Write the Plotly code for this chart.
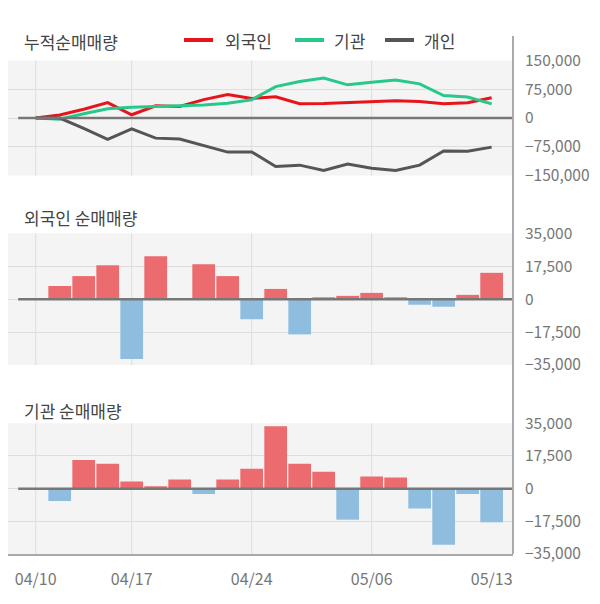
import plotly.graph_objects as go
from plotly.subplots import make_subplots

dates = ["04/10", "04/13", "04/14", "04/16", "04/17", "04/20", "04/21", "04/22", "04/23", "04/24",
         "04/27", "04/28", "04/29", "05/04", "05/06", "05/07", "05/08", "05/11", "05/12", "05/13"]
tick_dates = ["04/10", "04/17", "04/24", "05/06", "05/13"]

foreign_cum = [0, 8000, 23000, 40000, 8500, 32000, 30000, 48000, 61000, 51000,
               55500, 37500, 38000, 40000, 42500, 45000, 43000, 37500, 40000, 53000]
inst_cum = [0, -3000, 11000, 24000, 28000, 30000, 32500, 34000, 38500, 47500,
            82000, 95000, 104500, 86500, 93000, 99000, 89000, 58500, 54500, 37000]
indiv_cum = [0, 0, -27000, -55500, -28500, -52500, -55000, -71000, -89000, -88500,
             -126500, -123000, -137000, -120000, -131000, -137000, -123000, -86000, -87000, -76000]

foreign_net = [0, 7000, 12250, 18000, -31850, 22750, 0, 18550, 12250, -10675,
               5425, -18725, 700, 1750, 3325, 700, -2975, -4025, 2275, 14000]
inst_net = [0, -6650, 15400, 13300, 3850, 1225, 4900, -2800, 4900, 10675,
            33425, 13300, 9100, -16625, 6475, 5950, -10675, -30100, -2800, -18025]

cum_ticks = [-150000, -75000, 0, 75000, 150000]
net_ticks = [-35000, -17500, 0, 17500, 35000]

RED = "#e8141c"
GREEN = "#27c98a"
GRAY = "#555555"
POS = "#ec6b6f"
NEG = "#8fbde0"
GRID = "#dddddd"
BG = "#f4f4f4"
FONT = "Noto Sans CJK KR"

fig = make_subplots(rows=3, cols=1, shared_xaxes=True)

fig.add_trace(go.Scatter(x=dates, y=foreign_cum, mode="lines", line=dict(color=RED, width=3), name="외국인"), 1, 1)
fig.add_trace(go.Scatter(x=dates, y=inst_cum, mode="lines", line=dict(color=GREEN, width=3), name="기관"), 1, 1)
fig.add_trace(go.Scatter(x=dates, y=indiv_cum, mode="lines", line=dict(color=GRAY, width=3), name="개인"), 1, 1)

fig.add_trace(go.Bar(x=dates, y=foreign_net, marker=dict(color=[POS if v >= 0 else NEG for v in foreign_net], line=dict(width=0))), 2, 1)
fig.add_trace(go.Bar(x=dates, y=inst_net, marker=dict(color=[POS if v >= 0 else NEG for v in inst_net], line=dict(width=0))), 3, 1)

# page pixel -> paper fraction (page has an 8px body offset)
H = 546.0
W = 505.0
def fy(py):
    return (554.0 - py) / H
def fx(px):
    return (px - 8.0) / W

domains = [(fy(175.5), fy(60.5)), (fy(365), fy(233.3)), (0, fy(423.3))]
ranges = [(-150000, 150000), (-35000, 35000), (-35000, 35000)]
tickss = [cum_ticks, net_ticks, net_ticks]
XR = [-1.155, 19.89]

for i in range(3):
    ax = "yaxis" if i == 0 else f"yaxis{i+1}"
    fig.layout[ax].update(
        domain=list(domains[i]), range=list(ranges[i]), side="right", automargin=False,
        tickvals=tickss[i], tickformat=",", showgrid=True, gridcolor=GRID, gridwidth=1,
        zeroline=False, showline=False, ticks="", ticklabelstandoff=11,
        tickfont=dict(family=FONT, size=15.5, color="#777777"), fixedrange=True,
    )
    xa = "xaxis" if i == 0 else f"xaxis{i+1}"
    fig.layout[xa].update(
        type="category", range=XR, showgrid=False, zeroline=False, automargin=False,
        tickmode="array", tickvals=tick_dates, ticktext=tick_dates,
        showticklabels=(i == 2), ticks="",
        tickfont=dict(family=FONT, size=16, color="#777777"),
    )
fig.layout.xaxis3.update(showline=True, linecolor="#aaaaaa", linewidth=2, ticklabelstandoff=10)

shapes = []
for i in range(3):
    yd = "y domain" if i == 0 else f"y{i+1} domain"
    xr = "x" if i == 0 else f"x{i+1}"
    yr = "y" if i == 0 else f"y{i+1}"
    shapes.append(dict(type="rect", xref="paper", yref=yd, x0=0, x1=1, y0=0, y1=1,
                       fillcolor=BG, line=dict(width=0), layer="below"))
    for t in [0, 4, 9, 14]:
        shapes.append(dict(type="line", xref=xr, yref=yd,
                           x0=t, x1=t, y0=0, y1=1, line=dict(color=GRID, width=1), layer="below"))
    shapes.append(dict(type="line", xref=xr, yref=yr,
                       x0=-0.73, x1=XR[1], y0=0, y1=0, line=dict(color="#777777", width=2.5)))
shapes.append(dict(type="line", xref="paper", yref="paper", x0=1, x1=1, y0=0, y1=fy(36),
                   line=dict(color="#aaaaaa", width=2)))

leg = [("외국인", RED, 184, 223), ("기관", GREEN, 295, 332), ("개인", GRAY, 385, 422)]
annotations = []
for name, col, lx, tx in leg:
    shapes.append(dict(type="line", xref="paper", yref="paper", x0=fx(lx), x1=fx(lx + 29),
                       y0=fy(40), y1=fy(40), line=dict(color=col, width=4)))
    annotations.append(dict(text=name, xref="paper", yref="paper", x=fx(tx), y=fy(40),
                            xanchor="left", yanchor="middle", showarrow=False,
                            font=dict(family=FONT, size=17, color="#444444")))

titles = [("누적순매매량", 41), ("외국인 순매매량", 218), ("기관 순매매량", 410)]
for t, py in titles:
    annotations.append(dict(text=t, xref="paper", yref="paper", x=fx(22), y=fy(py),
                            xanchor="left", yanchor="middle", showarrow=False,
                            font=dict(family=FONT, size=17, color="#444444")))

fig.update_layout(
    width=600, height=604, margin=dict(l=0, r=95, t=0, b=58, autoexpand=False),
    paper_bgcolor="white", plot_bgcolor="rgba(0,0,0,0)",
    showlegend=False, bargap=0.053, shapes=shapes, annotations=annotations,
    font=dict(family=FONT),
)

fig.write_html("out.html")
